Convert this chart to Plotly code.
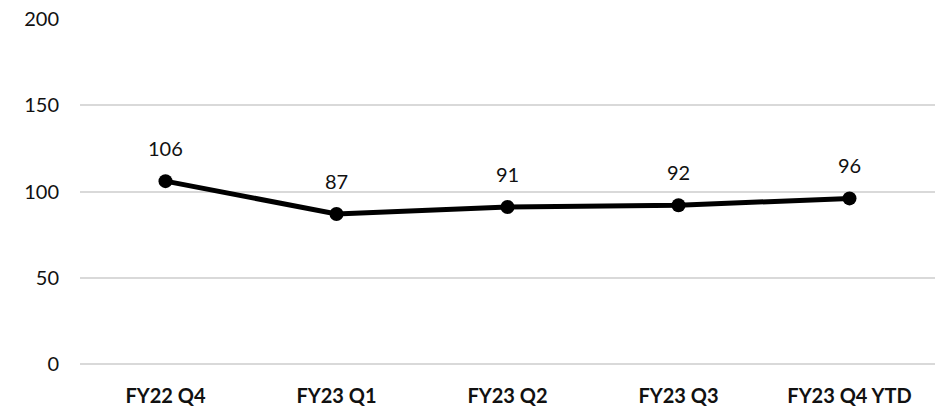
import plotly.graph_objects as go

categories = ["FY22 Q4", "FY23 Q1", "FY23 Q2", "FY23 Q3", "FY23 Q4 YTD"]
values = [106, 87, 91, 92, 96]
y_ticks = [0, 50, 100, 150, 200]

fig = go.Figure()
fig.add_trace(go.Scatter(
    x=categories, y=values,
    mode="lines+markers",
    line=dict(color="black", width=5),
    marker=dict(color="black", size=14),
    cliponaxis=False,
    showlegend=False,
))

for c, v in zip(categories, values):
    fig.add_annotation(
        x=c, y=v, text=str(v), showarrow=False,
        yanchor="bottom", yshift=19,
        font=dict(family="Lato", size=20, color="#111111"),
    )

fig.update_layout(
    width=935, height=407,
    margin=dict(l=80, r=0, t=19, b=43),
    paper_bgcolor="white", plot_bgcolor="white",
    font=dict(family="Lato", size=20, color="#111111"),
    xaxis=dict(
        type="category", range=[-0.5, len(categories) - 0.5],
        showgrid=False, zeroline=False, showline=False,
        ticks="", ticklabelstandoff=18,
        tickfont=dict(family="Lato", size=20, color="#111111", weight="bold"),
    ),
    yaxis=dict(
        range=[0, 200], tickvals=y_ticks,
        showgrid=True, gridcolor="#d9d9d9", gridwidth=1.5,
        zeroline=True, zerolinecolor="#d9d9d9", zerolinewidth=1.5,
        showline=False, ticks="", ticklabelstandoff=20,
        tickfont=dict(family="Lato", size=20, color="#111111"),
    ),
)

fig.write_html("out.html")
